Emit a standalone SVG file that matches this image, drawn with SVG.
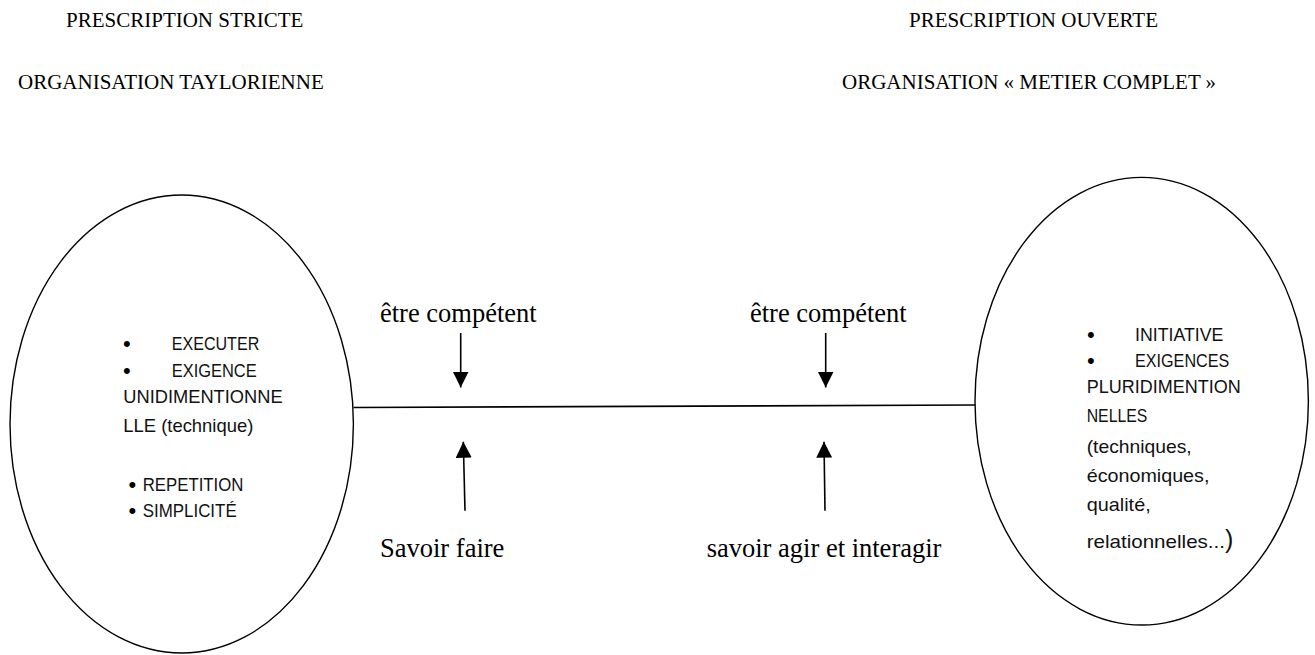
<svg xmlns="http://www.w3.org/2000/svg" width="1315" height="655" viewBox="0 0 1315 655">
<style>
.hd{font-family:"Liberation Serif","Times New Roman",serif;font-size:21px;fill:#000}
.lb{font-family:"Liberation Serif","Times New Roman",serif;font-size:26.5px;fill:#000}
.nt{font-family:"Liberation Sans",Arial,sans-serif;font-size:18.5px;fill:#111}
.bu{font-family:"Liberation Sans",Arial,sans-serif;font-size:22px;fill:#000}
.shape{fill:none;stroke:#000;stroke-width:1.4}
.conn{fill:none;stroke:#000;stroke-width:1.6}
</style>
<defs>
<marker id="ah" viewBox="0 0 16 16" markerWidth="16" markerHeight="16" refX="16" refY="8" orient="auto" markerUnits="userSpaceOnUse">
<path d="M0,0 L16,8 L0,16 z" fill="#000"/>
</marker>
</defs>
<rect width="1315" height="655" fill="#fff"/>
<g id="headings">
<text class="hd" x="66" y="27">PRESCRIPTION STRICTE</text>
<text class="hd" x="18" y="89">ORGANISATION TAYLORIENNE</text>
<text class="hd" x="909" y="27">PRESCRIPTION OUVERTE</text>
<text class="hd" x="842" y="89">ORGANISATION « METIER COMPLET »</text>
</g>
<g id="node-left">
<ellipse class="shape" cx="181.7" cy="424" rx="171.7" ry="229"/>
<text class="bu" x="123" y="351">•</text>
<text class="nt" x="171.7" y="350" textLength="87.6" lengthAdjust="spacingAndGlyphs">EXECUTER</text>
<text class="bu" x="123" y="377.7">•</text>
<text class="nt" x="171.7" y="376.7" textLength="85" lengthAdjust="spacingAndGlyphs">EXIGENCE</text>
<text class="nt" x="123.3" y="403.3" textLength="159.3" lengthAdjust="spacingAndGlyphs">UNIDIMENTIONNE</text>
<text class="nt" x="123.3" y="431.7" textLength="130" lengthAdjust="spacingAndGlyphs">LLE (technique)</text>
<text class="bu" x="128.5" y="491.7">•</text>
<text class="nt" x="142.7" y="490.7" textLength="100.7" lengthAdjust="spacingAndGlyphs">REPETITION</text>
<text class="bu" x="128.5" y="517.7">•</text>
<text class="nt" x="142.7" y="516.7" textLength="94" lengthAdjust="spacingAndGlyphs">SIMPLICITÉ</text>
</g>
<g id="node-right">
<ellipse class="shape" cx="1141.7" cy="401.2" rx="166.7" ry="223.8"/>
<text class="bu" x="1087" y="341.7">•</text>
<text class="nt" x="1135" y="340.7" textLength="88.3" lengthAdjust="spacingAndGlyphs">INITIATIVE</text>
<text class="bu" x="1087" y="368.3">•</text>
<text class="nt" x="1135" y="367.3" textLength="94.3" lengthAdjust="spacingAndGlyphs">EXIGENCES</text>
<text class="nt" x="1086.7" y="393.3" textLength="154" lengthAdjust="spacingAndGlyphs">PLURIDIMENTION</text>
<text class="nt" x="1086.7" y="421.7" textLength="60.7" lengthAdjust="spacingAndGlyphs">NELLES</text>
<text class="nt" x="1086.7" y="452.7" textLength="105" lengthAdjust="spacingAndGlyphs">(techniques,</text>
<text class="nt" x="1086.7" y="481.7" textLength="122.7" lengthAdjust="spacingAndGlyphs">économiques,</text>
<text class="nt" x="1086.7" y="510.7" textLength="64" lengthAdjust="spacingAndGlyphs">qualité,</text>
<text class="nt" x="1086.7" y="548.3"><tspan textLength="138.3" lengthAdjust="spacingAndGlyphs">relationnelles...</tspan><tspan font-size="25">)</tspan></text>
</g>
<g id="labels">
<text class="lb" x="380" y="322">être compétent</text>
<text class="lb" x="750" y="322">être compétent</text>
<text class="lb" x="380" y="557">Savoir faire</text>
<text class="lb" x="706.7" y="557">savoir agir et interagir</text>
</g>
<g id="connectors">
<line class="conn" x1="353.5" y1="407.5" x2="975" y2="405"/>
<line class="conn" x1="460.7" y1="333" x2="460.7" y2="387.5" marker-end="url(#ah)"/>
<line class="conn" x1="825.7" y1="333" x2="825.7" y2="387.5" marker-end="url(#ah)"/>
<line class="conn" x1="465" y1="510.7" x2="463.3" y2="441.7" marker-end="url(#ah)"/>
<line class="conn" x1="825" y1="510.7" x2="824" y2="441.7" marker-end="url(#ah)"/>
</g>
</svg>
